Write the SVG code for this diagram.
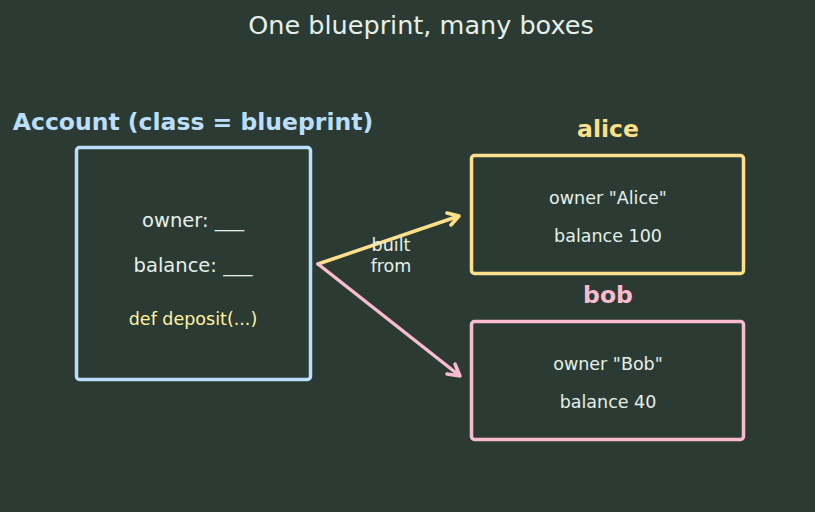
<svg xmlns="http://www.w3.org/2000/svg" width="815" height="512" viewBox="0 0 815 512">
<defs>
<style>
text{font-family:"DejaVu Sans","Liberation Sans",sans-serif;text-anchor:middle;fill:#e6efe9}
.b{font-weight:bold;font-size:23.5px}
.f{font-size:17.5px}
.box{fill:none;stroke-width:3.5}
.con{fill:none;stroke-width:3.5;stroke-linecap:round;stroke-linejoin:round}
</style>
</defs>
<rect width="815" height="512" fill="#2b3b34"/>
<text x="421" y="34" style="font-size:25.5px">One blueprint, many boxes</text>
<g id="account">
<text class="b" x="193" y="130" style="fill:#bbdefb">Account (class = blueprint)</text>
<rect class="box" x="76.5" y="147.5" width="234" height="232" rx="3" stroke="#bbdefb"/>
<text x="193" y="227" style="font-size:19.5px">owner: ___</text>
<text x="193" y="272" style="font-size:19.5px">balance: ___</text>
<text x="193" y="325" class="f" style="fill:#fff3a0">def deposit(...)</text>
</g>
<g id="alice">
<text class="b" x="608" y="137" style="fill:#ffe08a">alice</text>
<rect class="box" x="471.5" y="155.5" width="272" height="118" rx="3" stroke="#ffe08a"/>
<text class="f" x="608" y="204">owner "Alice"</text>
<text class="f" x="608" y="242">balance 100</text>
</g>
<g id="bob">
<text class="b" x="608" y="303" style="fill:#f8bbd0">bob</text>
<rect class="box" x="471.5" y="321.5" width="272" height="118" rx="3" stroke="#f8bbd0"/>
<text class="f" x="608" y="370">owner "Bob"</text>
<text class="f" x="608" y="408">balance 40</text>
</g>
<g id="connectors">
<path class="con" stroke="#ffe08a" d="M318 264 L459 216 M447 213 L459 216 L451 225"/>
<path class="con" stroke="#f8bbd0" d="M318 264 L460 376 M455 364 L460 376 L447 374"/>
<text class="f" x="391" y="251">built</text>
<text class="f" x="391" y="272">from</text>
</g>
</svg>
